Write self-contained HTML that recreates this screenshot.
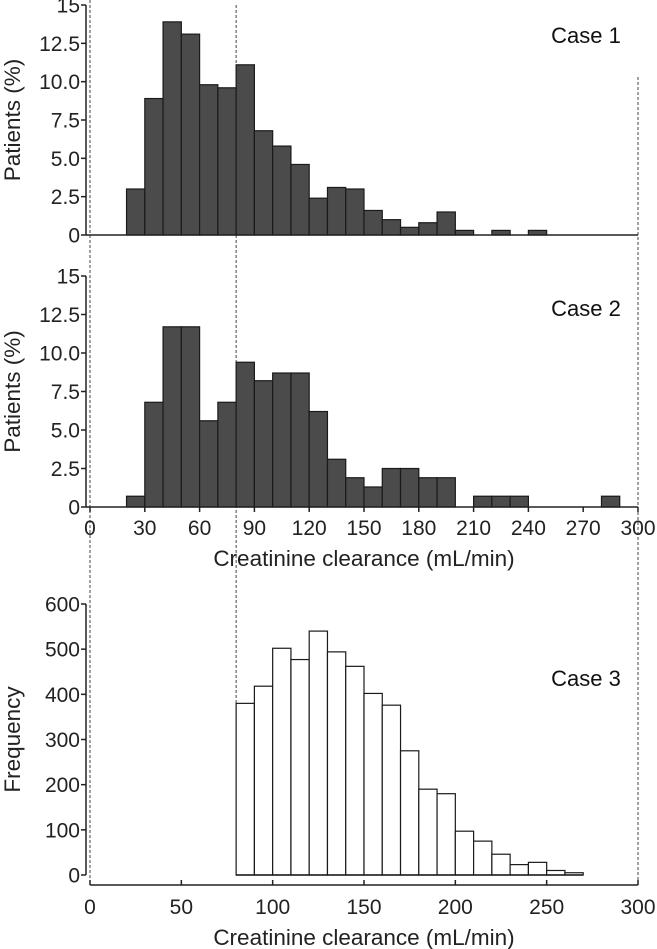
<!DOCTYPE html>
<html><head><meta charset="utf-8"><style>
body{margin:0;background:#fff}
svg{display:block;font-family:"Liberation Sans",Arial,sans-serif}
</style></head><body>
<svg id="chart" width="657" height="949" viewBox="0 0 657 949" xmlns="http://www.w3.org/2000/svg"></svg>
<script>
const binStart = 0;
const binWidth = 10;
const case1Values = [0,0,3.0,8.9,13.9,13.1,9.8,9.6,11.1,6.8,5.8,4.6,2.4,3.1,3.0,1.6,1.0,0.5,0.8,1.5,0.3,0,0.3,0,0.3];
const case2Values = [0,0,0.7,6.8,11.7,11.7,5.6,6.8,9.4,8.2,8.7,8.7,6.2,3.1,1.9,1.3,2.5,2.5,1.9,1.9,0,0.7,0.7,0.7,0,0,0,0,0.7];
const case3Values = [0,0,0,0,0,0,0,0,380,418,502,477,540,494,462,402,376,275,190,180,97,75,46,23,28,10,5];
const pctTicks = [0,2.5,5.0,7.5,10.0,12.5,15];
const pctTickLabels = ["0","2.5","5.0","7.5","10.0","12.5","15"];
const freqTicks = [0,100,200,300,400,500,600];
const xTicks2 = [0,30,60,90,120,150,180,210,240,270,300];
const xTicks3 = [0,50,100,150,200,250,300];
const refLines = [0,80,300];

const svg = document.getElementById('chart');
const NS = 'http://www.w3.org/2000/svg';
function mk(tag, attrs, parent){const e=document.createElementNS(NS,tag);for(const k in attrs)e.setAttribute(k,attrs[k]);(parent||svg).appendChild(e);return e;}
const X = v => 90 + v*(548/300);
const AXC = '#222';
const TF = 21, TT = 22.5;

const refTop = [0,5,77];
refLines.forEach((v,i)=>{
  const l = mk('line',{x1:X(v),x2:X(v),y1:refTop[i],y2:(v===80?875:885),stroke:'#444','stroke-width':1,'stroke-dasharray':'3,2'});
  
  
});

function panel(name, vals, yMax, yTop, yBot, ticks, tickLabels, fill, title, caseLabel, caseY){
  const g = mk('g',{});
  
  
  const Y = v => yBot - v*(yBot-yTop)/yMax;
  vals.forEach((v,i)=>{
    if(v<=0) return;
    const x0 = X(binStart+i*binWidth), x1 = X(binStart+(i+1)*binWidth);
    const r = mk('rect',{x:x0,y:Y(v),width:x1-x0,height:Y(0)-Y(v),fill:fill,stroke:'#1a1a1a','stroke-width':1.2},g);
    
    
  });
  const ya = mk('line',{x1:86,x2:86,y1:yTop,y2:yBot,stroke:AXC,'stroke-width':1.5},g);
  
  
  ticks.forEach((t,i)=>{
    mk('line',{x1:81,x2:86,y1:Y(t),y2:Y(t),stroke:AXC,'stroke-width':1.5},g);
    const tx = mk('text',{x:80,y:Y(t)+7.5,'text-anchor':'end','font-size':TF,fill:'#222'},g);
    tx.textContent = tickLabels[i];
    
    
  });
  const yt = mk('text',{x:0,y:0,'text-anchor':'middle','font-size':TT,fill:'#222',transform:`translate(20,${(yTop+yBot)/2}) rotate(-90)`},g);
  yt.textContent = title;
  
  
  const cl = mk('text',{x:586,y:caseY+8,'text-anchor':'middle','font-size':22,fill:'#111'},g);
  cl.textContent = caseLabel;
  
  
  return Y;
}

panel('case1-panel', case1Values, 15, 5, 235, pctTicks, pctTickLabels, '#4b4b4b', 'Patients (%)', 'Case 1', 35);
const xa1 = mk('line',{x1:86,x2:638,y1:235,y2:235,stroke:AXC,'stroke-width':1.5});



panel('case2-panel', case2Values, 15, 276, 507, pctTicks, pctTickLabels, '#4b4b4b', 'Patients (%)', 'Case 2', 308);
const xa2 = mk('line',{x1:86,x2:638,y1:507,y2:507,stroke:AXC,'stroke-width':1.5});


xTicks2.forEach(t=>{
  mk('line',{x1:X(t),x2:X(t),y1:507,y2:512,stroke:AXC,'stroke-width':1.5});
  const tx = mk('text',{x:X(t),y:535,'text-anchor':'middle','font-size':TF,fill:'#222'});
  tx.textContent = t;
  
  
});
const xt2 = mk('text',{x:X(150),y:566,'text-anchor':'middle','font-size':TT,fill:'#222'});
xt2.textContent = 'Creatinine clearance (mL/min)';



const Y3 = panel('case3-panel', case3Values, 600, 604, 875, freqTicks, freqTicks.map(String), '#fff', 'Frequency', 'Case 3', 678);
const first3 = case3Values.findIndex(v=>v>0);
let last3 = case3Values.length-1; while(case3Values[last3]<=0) last3--;
const bl = mk('line',{x1:X(first3*binWidth),x2:X((last3+1)*binWidth),y1:Y3(0),y2:Y3(0),stroke:'#1a1a1a','stroke-width':1.5});


const xa3 = mk('line',{x1:90,x2:638,y1:885,y2:885,stroke:AXC,'stroke-width':1.5});


xTicks3.forEach(t=>{
  mk('line',{x1:X(t),x2:X(t),y1:880,y2:885,stroke:AXC,'stroke-width':1.5});
  const tx = mk('text',{x:X(t),y:914,'text-anchor':'middle','font-size':TF,fill:'#222'});
  tx.textContent = t;
  
  
});
const xt3 = mk('text',{x:X(150),y:945,'text-anchor':'middle','font-size':TT,fill:'#222'});
xt3.textContent = 'Creatinine clearance (mL/min)';


</script>
</body></html>
